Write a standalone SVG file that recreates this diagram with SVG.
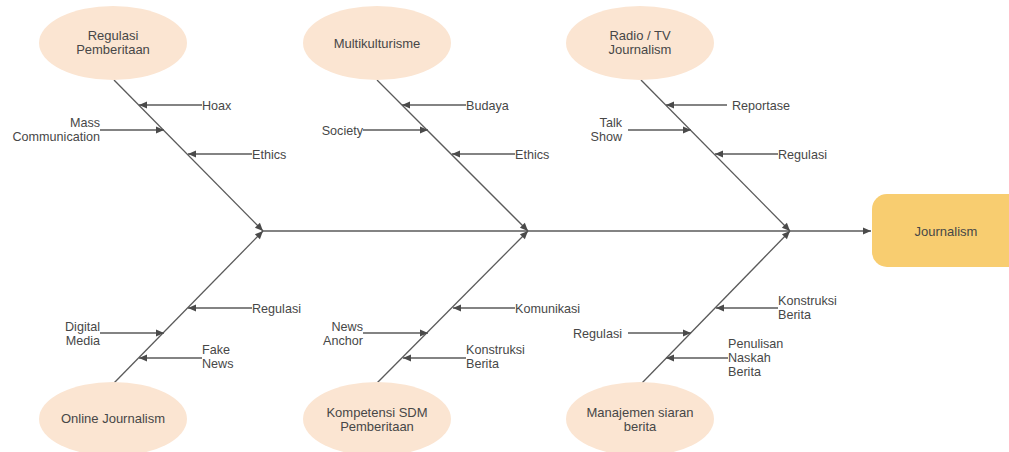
<svg xmlns="http://www.w3.org/2000/svg" width="1009" height="452" viewBox="0 0 1009 452">
<style>
.cat{fill:#fbe5d2;stroke:none}
.eff{fill:#f8cd70;stroke:none}
text{font-family:"Liberation Sans",Arial,sans-serif;font-size:13px;fill:#474747}
#labels text{font-size:12.6px}
.c{text-anchor:middle}
.e{text-anchor:end}
.ln{stroke:#5a5a5a;stroke-width:1.3;fill:none}
</style>
<defs>
<marker id="ah" markerUnits="userSpaceOnUse" markerWidth="10" markerHeight="10" viewBox="0 0 10 10" refX="9" refY="5" orient="auto">
<path d="M1,1.5 L9,5 L1,8.5 Z" fill="#4a4a4a"/>
</marker>
</defs>
<rect width="1009" height="452" fill="#ffffff"/>
<g id="connectors">
<line class="ln" x1="263" y1="231" x2="871" y2="231" marker-end="url(#ah)"/>
<line class="ln" x1="114" y1="80" x2="263" y2="231" marker-end="url(#ah)"/>
<line class="ln" x1="377" y1="80" x2="528" y2="231" marker-end="url(#ah)"/>
<line class="ln" x1="641" y1="80" x2="790" y2="231" marker-end="url(#ah)"/>
<line class="ln" x1="114" y1="383" x2="263" y2="231" marker-end="url(#ah)"/>
<line class="ln" x1="377" y1="383" x2="528" y2="231" marker-end="url(#ah)"/>
<line class="ln" x1="642" y1="383" x2="790" y2="231" marker-end="url(#ah)"/>
<line class="ln" x1="202" y1="105" x2="139" y2="105" marker-end="url(#ah)"/>
<line class="ln" x1="100" y1="130" x2="164" y2="130" marker-end="url(#ah)"/>
<line class="ln" x1="252" y1="154" x2="188" y2="154" marker-end="url(#ah)"/>
<line class="ln" x1="466" y1="105" x2="402" y2="105" marker-end="url(#ah)"/>
<line class="ln" x1="363" y1="130" x2="428" y2="130" marker-end="url(#ah)"/>
<line class="ln" x1="515" y1="154" x2="452" y2="154" marker-end="url(#ah)"/>
<line class="ln" x1="727" y1="105" x2="666" y2="105" marker-end="url(#ah)"/>
<line class="ln" x1="628" y1="130" x2="691" y2="130" marker-end="url(#ah)"/>
<line class="ln" x1="778" y1="154" x2="715" y2="154" marker-end="url(#ah)"/>
<line class="ln" x1="252" y1="308" x2="188" y2="308" marker-end="url(#ah)"/>
<line class="ln" x1="100" y1="333" x2="164" y2="333" marker-end="url(#ah)"/>
<line class="ln" x1="202" y1="358" x2="139" y2="358" marker-end="url(#ah)"/>
<line class="ln" x1="515" y1="308" x2="453" y2="308" marker-end="url(#ah)"/>
<line class="ln" x1="363" y1="333" x2="428" y2="333" marker-end="url(#ah)"/>
<line class="ln" x1="466" y1="358" x2="403" y2="358" marker-end="url(#ah)"/>
<line class="ln" x1="778" y1="308" x2="716" y2="308" marker-end="url(#ah)"/>
<line class="ln" x1="628" y1="333" x2="691" y2="333" marker-end="url(#ah)"/>
<line class="ln" x1="728" y1="358" x2="666" y2="358" marker-end="url(#ah)"/>
</g>
<g id="node-journalism">
<rect class="eff" x="872" y="194" width="150" height="73" rx="15"/>
<text class="c" x="946" y="235.5">Journalism</text>
</g>
<g id="node-regulasi-pemberitaan">
<ellipse class="cat" cx="113" cy="43" rx="74" ry="37"/>
<text class="c" x="113" y="39.5">Regulasi</text>
<text class="c" x="113" y="53.5">Pemberitaan</text>
</g>
<g id="node-multikulturisme">
<ellipse class="cat" cx="377" cy="43" rx="74" ry="37"/>
<text class="c" x="377" y="47.5">Multikulturisme</text>
</g>
<g id="node-radio-tv">
<ellipse class="cat" cx="640" cy="43" rx="74" ry="37"/>
<text class="c" x="640" y="39.5">Radio / TV</text>
<text class="c" x="640" y="53.5">Journalism</text>
</g>
<g id="node-online">
<ellipse class="cat" cx="113" cy="419" rx="74" ry="37"/>
<text class="c" x="113" y="423">Online Journalism</text>
</g>
<g id="node-kompetensi">
<ellipse class="cat" cx="377" cy="419" rx="74" ry="37"/>
<text class="c" x="377" y="416.5">Kompetensi SDM</text>
<text class="c" x="377" y="430.5">Pemberitaan</text>
</g>
<g id="node-manajemen">
<ellipse class="cat" cx="640" cy="419" rx="74" ry="37"/>
<text class="c" x="640" y="416.5">Manajemen siaran</text>
<text class="c" x="640" y="430.5">berita</text>
</g>
<g id="labels">
<text x="202" y="109.5">Hoax</text>
<text class="e" x="100" y="126.5">Mass</text>
<text class="e" x="100" y="140.5">Communication</text>
<text x="252" y="158.5">Ethics</text>
<text x="466" y="109.5">Budaya</text>
<text class="e" x="363" y="134.5">Society</text>
<text x="515" y="158.5">Ethics</text>
<text x="732" y="109.5">Reportase</text>
<text class="e" x="622" y="126.5">Talk</text>
<text class="e" x="622" y="140.5">Show</text>
<text x="778" y="158.5">Regulasi</text>
<text x="252" y="312.5">Regulasi</text>
<text class="e" x="100" y="330.5">Digital</text>
<text class="e" x="100" y="344.5">Media</text>
<text x="202" y="353.5">Fake</text>
<text x="202" y="367.5">News</text>
<text x="515" y="312.5">Komunikasi</text>
<text class="e" x="363" y="330.5">News</text>
<text class="e" x="363" y="344.5">Anchor</text>
<text x="466" y="353.5">Konstruksi</text>
<text x="466" y="367.5">Berita</text>
<text x="778" y="304.5">Konstruksi</text>
<text x="778" y="318.5">Berita</text>
<text class="e" x="622" y="337.5">Regulasi</text>
<text x="728" y="347.5">Penulisan</text>
<text x="728" y="361.5">Naskah</text>
<text x="728" y="375.5">Berita</text>
</g>
</svg>
